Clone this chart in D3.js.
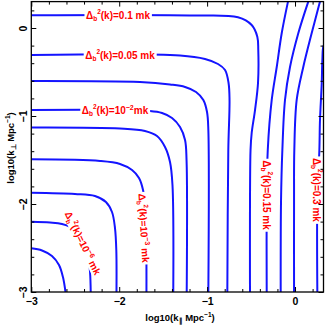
<!DOCTYPE html>
<meta charset="utf-8">
<script src="https://cdn.jsdelivr.net/npm/d3@7"></script>
<head>
<style>
    body { margin: 0; background: #fff; }
    text { font-family: "Liberation Sans", Arial, sans-serif; font-weight: bold; }
</style>
</head>
<body>
<script>

    var W = 327, H = 327;

    // axis ranges (log10 of k, Mpc^-1)
    var xDomain = [-3, 0.324];
    var yDomain = [-3, 0.30];
    var majorTicks = [-3, -2, -1, 0];
    var minorTicks = d3.range(-15, 2).map(function(i) { return i / 5; })
        .filter(function(v) { return Math.round(v) !== v; });

    // contour lines, [log10 k_par, log10 k_perp]
    var c01 = [[-3, 0.144], [-1.2, 0.142], [-0.649, 0.122], [-0.493, 0.034], [-0.429, -0.099],
        [-0.418, -0.25], [-0.421, -0.625], [-0.455, -0.932], [-0.493, -1.193], [-0.506, -1.386], [-0.512, -3]];
    var c005 = [[-3, -0.307], [-1.308, -0.3125], [-1.024, -0.352], [-0.876, -0.409], [-0.796, -0.477],
        [-0.756, -0.625], [-0.745, -0.818], [-0.759, -1.386], [-0.770, -3]];
    var c002 = [[-3, -0.602], [-1.763, -0.614], [-1.422, -0.642], [-1.251, -0.670], [-1.126, -0.727],
        [-1.043, -0.818], [-1.001, -0.955], [-0.986, -1.159], [-0.986, -3]];
    var c1e2 = [[-3, -0.932], [-1.650, -0.943], [-1.513, -0.966], [-1.399, -1.023], [-1.308, -1.125],
        [-1.251, -1.273], [-1.234, -1.5], [-1.232, -3]];
    var c5e3 = [[-3, -1.131], [-1.991, -1.142], [-1.707, -1.170], [-1.570, -1.227], [-1.479, -1.352],
        [-1.422, -1.523], [-1.394, -1.784], [-1.385, -3]];
    var c1e3 = [[-3, -1.492], [-2.218, -1.511], [-1.991, -1.545], [-1.854, -1.614], [-1.775, -1.705],
        [-1.729, -1.841], [-1.701, -2.068], [-1.692, -2.409], [-1.690, -3]];
    var c1e4 = [[-3, -1.872], [-2.503, -1.886], [-2.276, -1.909], [-2.151, -1.977], [-2.082, -2.091],
        [-2.048, -2.273], [-2.033, -2.523], [-2.031, -3]];
    var c1e6 = [[-3, -2.201], [-2.787, -2.210], [-2.651, -2.227], [-2.514, -2.284], [-2.412, -2.409],
        [-2.355, -2.580], [-2.332, -2.773], [-2.324, -3]];
    var c1e7 = [[-3, -2.503], [-2.878, -2.528], [-2.765, -2.591], [-2.685, -2.693], [-2.640, -2.830], [-2.611, -3]];
    var c015 = [[-0.080, 0.30], [-0.151, -0.057], [-0.208, -0.443], [-0.265, -0.818], [-0.310, -1.386],
        [-0.322, -1.955], [-0.322, -3]];
    var c02 = [[0.151, 0.30], [0.038, -0.057], [-0.057, -0.443], [-0.114, -0.818], [-0.144, -1.386],
        [-0.159, -1.955], [-0.163, -3]];
    var c025 = [[0.284, 0.30], [0.190, -0.057], [0.094, -0.443], [0.019, -0.818], [-0.008, -1.386],
        [-0.011, -1.955], [-0.011, -3]];
    var c03 = [[0.36, -0.15], [0.324, -0.205], [0.311, -0.364], [0.304, -0.625], [0.284, -1.045],
        [0.277, -1.386], [0.254, -1.955], [0.254, -3]];

    var contours = [c01, c005, c002, c1e2, c5e3, c1e3, c1e4, c1e6, c1e7, c015, c02, c025, c03];

    // contour labels: text, where it sits (data units), angle
    var labelText = ["0.1 mk", "0.05 mk", "10^-2mk", "10^-3 mk", "10^-6 mk", "0.15 mk", "0.3 mk"];
    var labelX = [-2.014, -1.991, -2.048, -1.718, -2.412, -0.322, 0.250];
    var labelY = [0.144, -0.307, -0.932, -2.273, -2.443, -1.898, -1.840];
    var labelAngle = [0, 0, 0, 87, 64, 90, 90];

    var margin = {left: 31.3, right: 3.5, top: 1.6, bottom: 35};

    var x = d3.scaleLinear().domain(xDomain).range([margin.left, W - margin.right]);
    var y = d3.scaleLinear().domain(yDomain).range([H - margin.bottom, margin.top]);

    var svg = d3.select("body").append("svg")
        .attr("width", W)
        .attr("height", H);

    svg.append("clipPath")
        .attr("id", "plotClip")
        .append("rect")
        .attr("x", x.range()[0])
        .attr("y", y.range()[1])
        .attr("width", x.range()[1] - x.range()[0])
        .attr("height", y.range()[0] - y.range()[1]);

    var line = d3.line()
        .x(function(d) { return x(d[0]); })
        .y(function(d) { return y(d[1]); })
        .curve(d3.curveCatmullRom.alpha(0.5));

    svg.append("g")
        .attr("clip-path", "url(#plotClip)")
        .selectAll("path")
        .data(contours)
        .enter()
        .append("path")
        .attr("d", line)
        .style("fill", "none")
        .style("stroke", "#1414ff")
        .style("stroke-width", 2);

    // labels, with a white patch behind so the line breaks
    var labelLayer = svg.append("g").attr("clip-path", "url(#plotClip)");

    labelText.forEach(function(s, i) {
        var g = labelLayer.append("g")
            .attr("transform", "translate(" + x(labelX[i]) + "," + y(labelY[i]) + ") rotate(" + labelAngle[i] + ")");
        var bg = g.append("rect").style("fill", "#fff");
        var t = g.append("text")
            .attr("text-anchor", "middle")
            .attr("y", 3.6)
            .style("font-size", "10px")
            .style("fill", "#ff0000");

        t.append("tspan").text("\u0394");
        t.append("tspan").attr("dy", 2.5).style("font-size", "6.5px").text("b");
        t.append("tspan").attr("dy", -7).style("font-size", "6.5px").text("2");

        var parts = s.split("^");
        if (parts.length === 1) {
            t.append("tspan").attr("dy", 4.5).text("(k)=" + s);
        } else {
            var m = parts[1].match(/^(-?\d+)(.*)$/);
            t.append("tspan").attr("dy", 4.5).text("(k)=" + parts[0]);
            t.append("tspan").attr("dy", -4).style("font-size", "7px").text(m[1].replace("-", "\u2212"));
            t.append("tspan").attr("dy", 4).text(m[2]);
        }

        var bb = t.node().getBBox();
        bg.attr("x", bb.x - 1.5)
            .attr("y", 3.6 - 8.5)
            .attr("width", bb.width + 3)
            .attr("height", 11);
    });

    // ticks on all four sides, pointing in
    function ticks(axis, major) {
        return axis.tickValues(major ? majorTicks : minorTicks)
            .tickSize(major ? -5 : -3)
            .tickFormat("");
    }

    var plotBottom = y.range()[0], plotTop = y.range()[1];
    var plotLeft = x.range()[0], plotRight = x.range()[1];

    [true, false].forEach(function(major) {
        svg.append("g").attr("transform", "translate(0," + plotBottom + ")").call(ticks(d3.axisBottom(x), major));
        svg.append("g").attr("transform", "translate(0," + plotTop + ")").call(ticks(d3.axisTop(x), major));
        svg.append("g").attr("transform", "translate(" + plotLeft + ",0)").call(ticks(d3.axisLeft(y), major));
        svg.append("g").attr("transform", "translate(" + plotRight + ",0)").call(ticks(d3.axisRight(y), major));
    });
    svg.selectAll(".domain").remove();
    svg.selectAll(".tick line").style("stroke", "#000").style("stroke-width", 1);

    // tick labels
    var fmt = d3.format("d");
    var xLab = svg.append("g")
        .attr("transform", "translate(0," + plotBottom + ")")
        .call(d3.axisBottom(x).tickValues(majorTicks).tickFormat(fmt).tickSize(0).tickPadding(6));
    var yLab = svg.append("g")
        .attr("transform", "translate(" + plotLeft + ",0)")
        .call(d3.axisLeft(y).tickValues(majorTicks).tickFormat(fmt).tickSize(0));
    xLab.select(".domain").remove();
    yLab.select(".domain").remove();
    svg.selectAll(".tick text")
        .style("font-family", "'Liberation Sans', Arial, sans-serif")
        .style("font-weight", "bold")
        .style("font-size", "10.5px")
        .style("fill", "#000");
    yLab.selectAll(".tick text")
        .attr("x", 0)
        .attr("y", -4.8)
        .attr("dy", 0)
        .attr("text-anchor", "middle")
        .attr("transform", "rotate(-90)");

    // frame
    svg.append("rect")
        .attr("x", plotLeft)
        .attr("y", plotTop)
        .attr("width", plotRight - plotLeft)
        .attr("height", plotBottom - plotTop)
        .style("fill", "none")
        .style("stroke", "#000")
        .style("stroke-width", 1.3);

    // axis titles
    var xt = svg.append("text")
        .attr("x", 180)
        .attr("y", 321)
        .attr("text-anchor", "middle")
        .style("font-size", "9.5px");
    xt.append("tspan").text("log10(k");
    xt.append("tspan").attr("dy", 2).style("font-size", "6.5px").text("\u2225");
    xt.append("tspan").attr("dy", -2).text(" Mpc");
    xt.append("tspan").attr("dy", -4).style("font-size", "6.5px").text("\u22121");
    xt.append("tspan").attr("dy", 4).text(")");

    var yt = svg.append("text")
        .attr("transform", "translate(14," + 148 + ") rotate(-90)")
        .attr("text-anchor", "middle")
        .style("font-size", "9.5px");
    yt.append("tspan").text("log10(k");
    yt.append("tspan").attr("dy", 2).style("font-size", "6.5px").text("\u22a5");
    yt.append("tspan").attr("dy", -2).text(" Mpc");
    yt.append("tspan").attr("dy", -4).style("font-size", "6.5px").text("\u22121");
    yt.append("tspan").attr("dy", 4).text(")");

</script>
</body>
</html>
